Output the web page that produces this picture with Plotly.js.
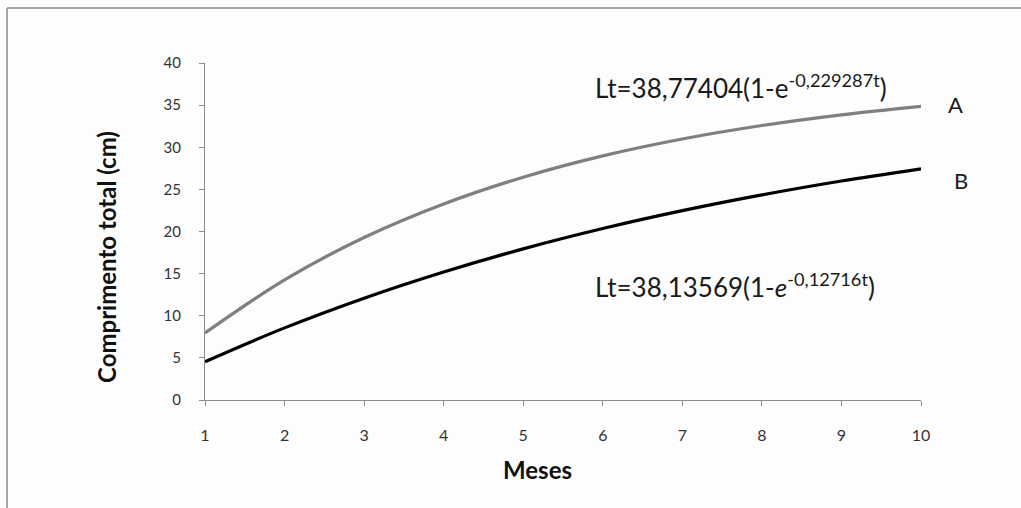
<!DOCTYPE html>
<html>
<head>
<meta charset="utf-8">
<script src="https://cdn.plot.ly/plotly-3.0.1.min.js"></script>
<style>
html,body{margin:0;padding:0;background:#fdfdfd;}
#chart{width:1021px;height:508px;}
</style>
</head>
<body>
<div id="chart"></div>
<script>
// Data
const meses = [1, 2, 3, 4, 5, 6, 7, 8, 9, 10];
const serieA = [7.95, 14.26, 19.29, 23.27, 26.45, 28.98, 30.98, 32.58, 33.85, 34.86];
const serieB = [4.55, 8.56, 12.09, 15.20, 17.94, 20.35, 22.47, 24.34, 25.99, 27.44];
const yTicks = [0, 5, 10, 15, 20, 25, 30, 35, 40];
const xTitle = 'Meses';
const yTitle = 'Comprimento total (cm)';
const eqA = 'Lt=38,77404(1-e<sup>-0,229287t</sup>)';
const eqB = 'Lt=38,13569(1-<i>e</i><sup>-0,12716t</sup>)';

const traces = [
  {x: meses, y: serieA, name: 'A', mode: 'lines', line: {color: '#7f7f7f', width: 3.2, shape: 'spline'}},
  {x: meses, y: serieB, name: 'B', mode: 'lines', line: {color: '#000000', width: 3.2, shape: 'spline'}}
];

const eqFont = {family: 'Lato, "Open Sans", sans-serif', size: 26, color: '#1a1a1a'};
const lblFont = {family: 'Lato, "Open Sans", sans-serif', size: 22, color: '#1a1a1a'};

const layout = {
  width: 1021, height: 508,
  margin: {l: 205, r: 100, t: 63, b: 108},
  paper_bgcolor: '#fdfdfd', plot_bgcolor: '#fdfdfd',
  showlegend: false,
  xaxis: {
    range: [1, 10], tickmode: 'array', tickvals: meses, ticktext: meses.map(String),
    showgrid: false, zeroline: false, showline: true, linecolor: '#8c8c8c', linewidth: 1,
    ticks: 'outside', ticklen: 5, tickcolor: '#8c8c8c',
    ticklabelstandoff: 16,
    tickfont: {family: 'Lato, "Liberation Sans", sans-serif', size: 16, color: '#333'}
  },
  yaxis: {
    range: [0, 40], tickmode: 'array', tickvals: yTicks,
    showgrid: false, zeroline: false, showline: true, linecolor: '#8c8c8c', linewidth: 1,
    ticks: 'outside', ticklen: 5, tickcolor: '#8c8c8c',
    ticklabelstandoff: 15,
    tickfont: {family: 'Lato, "Liberation Sans", sans-serif', size: 15, color: '#333'}
  },
  annotations: [
    {xref: 'paper', yref: 'paper', x: 0.4637, y: -0.2077, xanchor: 'center', yanchor: 'middle',
     text: xTitle, showarrow: false,
     font: {family: 'Lato, "Open Sans", sans-serif', size: 24, color: '#111', weight: 'bold'}},
    {xref: 'paper', yref: 'paper', x: -0.1383, y: 0.4243, xanchor: 'center', yanchor: 'middle',
     text: yTitle, showarrow: false, textangle: -90,
     font: {family: 'Lato, "Open Sans", sans-serif', size: 24, color: '#111', weight: 'bold'}},
    {xref: 'paper', yref: 'paper', x: 0.542, y: 0.929, xanchor: 'left', yanchor: 'middle', text: eqA, showarrow: false, font: eqFont},
    {xref: 'paper', yref: 'paper', x: 0.542, y: 0.341, xanchor: 'left', yanchor: 'middle', text: eqB, showarrow: false, font: eqFont},
    {xref: 'paper', yref: 'paper', x: 1.0475, y: 0.878, xanchor: 'center', yanchor: 'middle', text: 'A', showarrow: false, font: lblFont},
    {xref: 'paper', yref: 'paper', x: 1.056, y: 0.650, xanchor: 'center', yanchor: 'middle', text: 'B', showarrow: false, font: lblFont}
  ],
  shapes: [
    {type: 'line', xref: 'paper', yref: 'paper', x0: -0.2765, x1: 1.15, y0: 1.163, y1: 1.163, line: {color: '#8a8a8a', width: 1.5}},
    {type: 'line', xref: 'paper', yref: 'paper', x0: -0.2765, x1: -0.2765, y0: 1.163, y1: -0.33, line: {color: '#8a8a8a', width: 1.5}}
  ]
};

Plotly.newPlot('chart', traces, layout, {displayModeBar: false, staticPlot: true});
</script>
</body>
</html>
